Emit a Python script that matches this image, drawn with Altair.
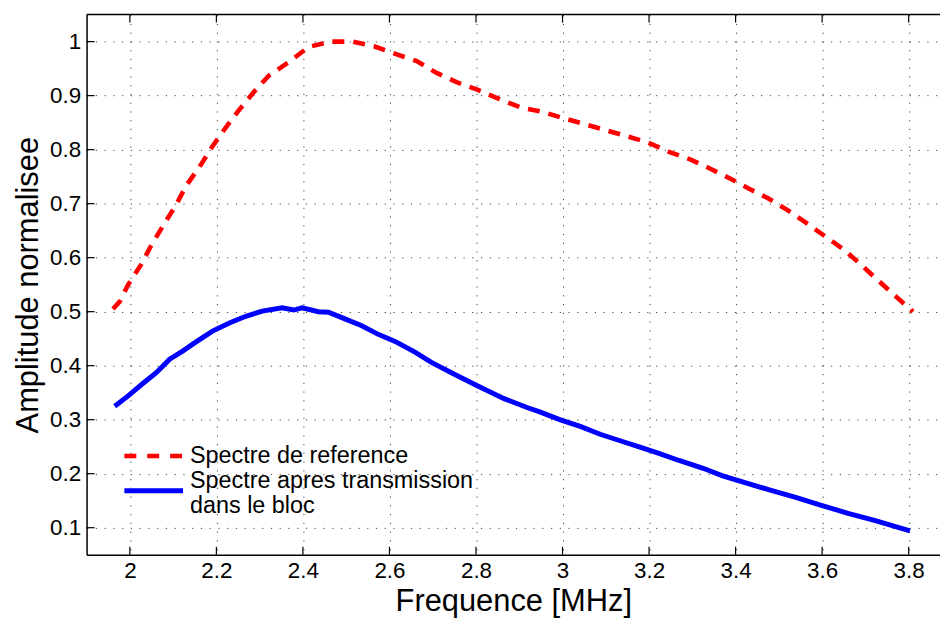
import altair as alt
import pandas as pd

# ---- data ----
freq_ref = [1.961, 1.977, 1.996, 2.026, 2.049, 2.076, 2.107, 2.130, 2.161, 2.190, 2.220,
            2.252, 2.287, 2.321, 2.367, 2.413, 2.463, 2.516, 2.566, 2.615, 2.663, 2.709,
            2.755, 2.803, 2.853, 2.903, 2.954, 3.003, 3.052, 3.100, 3.148, 3.198, 3.246,
            3.295, 3.338, 3.386, 3.430, 3.475, 3.520, 3.564, 3.606, 3.650, 3.687, 3.725,
            3.765, 3.810]
amp_ref = [0.505, 0.519, 0.550, 0.587, 0.622, 0.658, 0.698, 0.733, 0.768, 0.805, 0.839,
           0.873, 0.907, 0.937, 0.962, 0.990, 1.000, 1.000, 0.991, 0.977, 0.964, 0.942,
           0.925, 0.911, 0.894, 0.878, 0.870, 0.858, 0.847, 0.836, 0.825, 0.813, 0.796,
           0.782, 0.766, 0.747, 0.728, 0.710, 0.688, 0.664, 0.640, 0.615, 0.589, 0.561,
           0.532, 0.500]

freq_bloc = [1.965, 1.996, 2.030, 2.061, 2.092, 2.122, 2.153, 2.191, 2.230, 2.268, 2.306,
             2.352, 2.379, 2.398, 2.436, 2.459, 2.490, 2.536, 2.574, 2.613, 2.659, 2.697,
             2.750, 2.803, 2.865, 2.918, 2.949, 2.995, 3.041, 3.087, 3.133, 3.179, 3.221,
             3.271, 3.325, 3.370, 3.416, 3.478, 3.539, 3.600, 3.662, 3.723, 3.803]
amp_bloc = [0.325, 0.344, 0.367, 0.387, 0.412, 0.427, 0.444, 0.464, 0.479, 0.4915, 0.501,
            0.507, 0.503, 0.507, 0.500, 0.499, 0.489, 0.474, 0.458, 0.445, 0.425, 0.406,
            0.384, 0.363, 0.339, 0.3225, 0.314, 0.2996, 0.2875, 0.273, 0.261, 0.249, 0.238,
            0.224, 0.210, 0.196, 0.185, 0.170, 0.156, 0.141, 0.126, 0.113, 0.094]

x_ticks = [2.0, 2.2, 2.4, 2.6, 2.8, 3.0, 3.2, 3.4, 3.6, 3.8]
y_ticks = [0.1, 0.2, 0.3, 0.4, 0.5, 0.6, 0.7, 0.8, 0.9, 1.0]

legend_labels = ["Spectre de reference", "Spectre apres transmission", "dans le bloc"]
x_title = "Frequence [MHz]"
y_title = "Amplitude normalisee"

# ---- layout ----
W, H = 858, 543
X_DOMAIN = [1.9, 3.8724]
Y_DOMAIN = [0.05, 1.05]
FONT = "Liberation Sans"
RED = "#ff0000"
BLUE = "#0000ff"

xs = alt.Scale(domain=X_DOMAIN, nice=False, zero=False)
ys = alt.Scale(domain=Y_DOMAIN, nice=False, zero=False)

df_ref = pd.DataFrame({"f": freq_ref, "a": amp_ref})
df_bloc = pd.DataFrame({"f": freq_bloc, "a": amp_bloc})
df_xt = pd.DataFrame({"f": x_ticks})
df_yt = pd.DataFrame({"a": y_ticks})
df_one = pd.DataFrame({"k": [0]})

x_axis = alt.Axis(values=x_ticks, format="~g", title=x_title, grid=True, ticks=False,
                  labelPadding=5, titlePadding=5)
y_axis = alt.Axis(values=y_ticks, format="~g", title=y_title, grid=True, ticks=False,
                  labelPadding=6, titlePadding=5)

X = alt.X("f:Q", scale=xs, axis=x_axis)
Y = alt.Y("a:Q", scale=ys, axis=y_axis)

ref_line = alt.Chart(df_ref).mark_line(
    color=RED, strokeWidth=4.6, strokeDash=[12, 9], clip=True
).encode(x=X, y=Y)

bloc_line = alt.Chart(df_bloc).mark_line(
    color=BLUE, strokeWidth=5, clip=True
).encode(x=X, y=Y)

# inward ticks (MATLAB style)
tick_bottom = alt.Chart(df_xt).mark_rule(color="black", strokeWidth=1.2).encode(
    x=X, y=alt.value(H), y2=alt.value(H - 8))
tick_top = alt.Chart(df_xt).mark_rule(color="black", strokeWidth=1.2).encode(
    x=X, y=alt.value(0), y2=alt.value(8))
tick_left = alt.Chart(df_yt).mark_rule(color="black", strokeWidth=1.2).encode(
    y=Y, x=alt.value(0), x2=alt.value(8))

top_border = alt.Chart(df_one).mark_rule(color="black", strokeWidth=1.5).encode(
    x=alt.value(0), x2=alt.value(W), y=alt.value(0))

# manual legend
leg_red = alt.Chart(df_one).mark_rule(color=RED, strokeWidth=4.5, strokeDash=[12, 11]).encode(
    x=alt.value(38), x2=alt.value(97), y=alt.value(443.7))
leg_blue = alt.Chart(df_one).mark_rule(color=BLUE, strokeWidth=5).encode(
    x=alt.value(38), x2=alt.value(97), y=alt.value(478.7))

leg_rows = [444, 469, 494]
leg_texts = [
    alt.Chart(df_one).mark_text(
        align="left", baseline="middle", font=FONT, fontSize=23.5, color="black",
        text=lab,
    ).encode(x=alt.value(104), y=alt.value(yy))
    for lab, yy in zip(legend_labels, leg_rows)
]

chart = alt.layer(
    ref_line, bloc_line, tick_bottom, tick_top, tick_left, top_border,
    leg_red, leg_blue, *leg_texts
).properties(
    width=W, height=H,
    autosize=alt.AutoSizeParams(type="none"),
    padding={"left": 79, "top": 5, "right": 0, "bottom": 66},
    background="white",
).configure_view(
    stroke=None
).configure_axis(
    labelFont=FONT, labelFontSize=22.5, labelColor="black",
    titleFont=FONT, titleFontSize=31, titleFontWeight="normal", titleColor="black",
    domainColor="black", domainWidth=1.5,
    gridColor="black", gridOpacity=0.75, gridDash=[1.2, 7.6], gridWidth=1,
)

chart.save("out.html", embed_options={"renderer": "svg", "actions": False})
